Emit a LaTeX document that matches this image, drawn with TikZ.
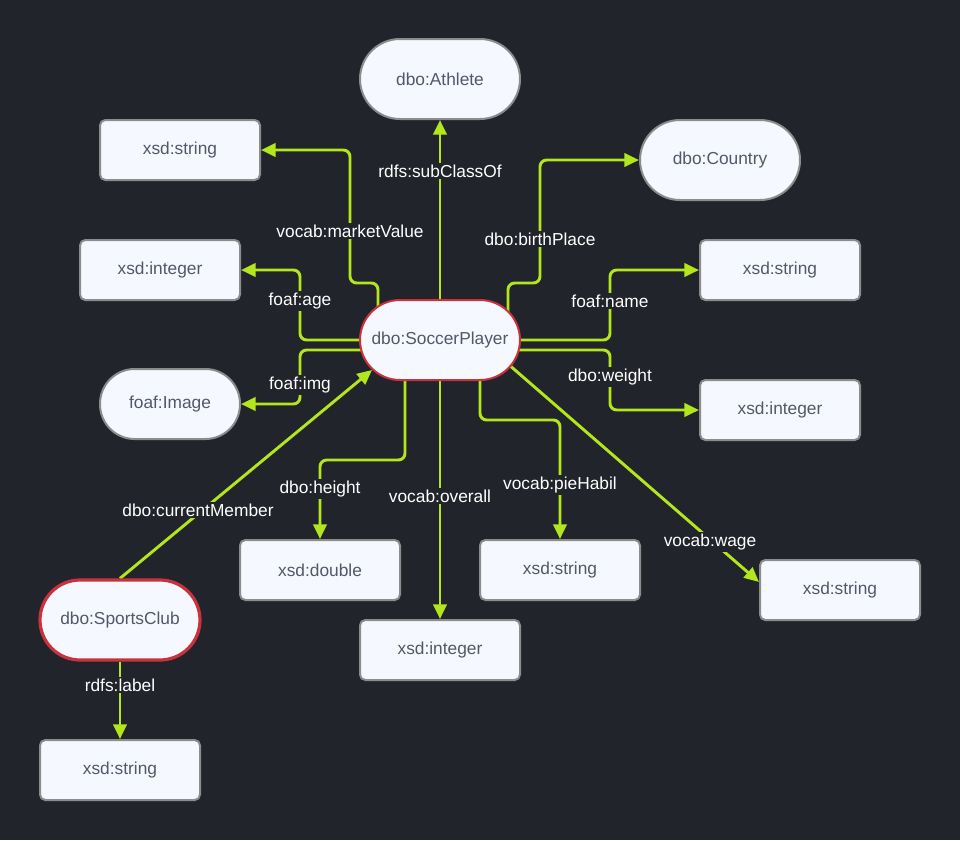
\documentclass[tikz,border=0pt]{standalone}
\usepackage{fontspec}
\setmainfont{Liberation Sans}
\usetikzlibrary{arrows.meta,calc}
\definecolor{bgc}{HTML}{22242B}
\definecolor{edgec}{HTML}{B4E61E}
\definecolor{nodefill}{HTML}{F5F9FF}
\definecolor{nodeborder}{HTML}{8C8C8C}
\definecolor{nodetext}{HTML}{525866}
\definecolor{redb}{HTML}{C8323C}
\pgfdeclarelayer{bglayer}
\pgfdeclarelayer{edgelayer}
\pgfsetlayers{bglayer,edgelayer,main}
\tikzset{
  box/.style={draw=nodeborder, line width=1.5pt, fill=nodefill, rounded corners=4pt,
    minimum width=120pt, minimum height=45pt, inner sep=0pt, text=nodetext,
    font=\fontsize{13}{15}\selectfont},
  pill/.style={box, rounded corners=30pt, minimum height=60pt},
  redpill/.style={pill, draw=redb},
  edge/.style={draw=edgec, line width=2.2pt, rounded corners=5pt,
    -{Triangle[length=11pt,width=10pt]}},
  lbl/.style={fill=bgc, text=white, inner sep=1.5pt, font=\fontsize{13}{15}\selectfont}
}
\begin{document}
\begin{tikzpicture}[x=0.75pt,y=-0.75pt]
\begin{pgfonlayer}{bglayer}
\fill[bgc] (0,0) rectangle (960,840);
\end{pgfonlayer}
\useasboundingbox (0,0) rectangle (960,840);

% nodes
\node[pill] (ath) at (440,79) {dbo:Athlete};
\node[box] (xs1) at (180,150) {xsd:string};
\node[pill] (cty) at (720,160) {dbo:Country};
\node[box] (xi1) at (160,270) {xsd:integer};
\node[box] (xs2) at (780,270) {xsd:string};
\node[redpill] (sp) at (440,340) {dbo:SoccerPlayer};
\node[pill, minimum width=105pt, minimum height=52.5pt, rounded corners=26pt] (img) at (170,404) {foaf:Image};
\node[box] (xi2) at (780,410) {xsd:integer};
\node[box] (xd) at (320,570) {xsd:double};
\node[box] (xs3) at (560,570) {xsd:string};
\node[box] (xs4) at (840,590) {xsd:string};
\node[box] (xi3) at (440,650) {xsd:integer};
\node[redpill, line width=2.4pt] (sc) at (120,620) {dbo:SportsClub};
\node[box] (xs5) at (120,770) {xsd:string};

% edges
\begin{pgfonlayer}{edgelayer}
\draw[edge] (sp) -- (ath.south);
\draw[edge] ($(sp.center)+(-62,0)$) |- (350,283) |- (xs1.east);
\draw[edge] ($(sp.center)+(68,0)$) |- (540,283) |- (cty.west);
\draw[edge] (sp.center) -| (300,270) -- (xi1.east);
\draw[edge] ($(sp.center)+(0,10)$) -| (300,404) -- (img.east);
\draw[edge] (sp.center) -| (610,270) -- (xs2.west);
\draw[edge] ($(sp.center)+(0,10)$) -| (610,410) -- (xi2.west);
\draw[edge] ($(sp.center)+(-35,0)$) |- (320,460) -- (xd.north);
\draw[edge] (sp) -- (xi3.north);
\draw[edge] ($(sp.center)+(40,0)$) |- (560,420) -- (xs3.north);
\draw[edge, rounded corners=0pt] ($(sp.center)+(60,17)$) -- ($(xs4.west)+(0,-8)$);
\draw[edge, rounded corners=0pt] (sc.north) -- ($(sp.center)+(-68,30)$);
\draw[edge] (sc.south) -- (xs5.north);
\end{pgfonlayer}

% labels
\node[lbl] (l1) at (440,171) {rdfs:subClassOf};
\node[lbl] (l2) at (350,231) {vocab:marketValue};
\node[lbl] (l3) at (540,239) {dbo:birthPlace};
\node[lbl] (l4) at (300,301) {foaf:age};
\node[lbl] (l5) at (300,385) {foaf:img};
\node[lbl] (l6) at (610,301) {foaf:name};
\node[lbl] (l7) at (610,377) {dbo:weight};
\node[lbl] (l8) at (320,489) {dbo:height};
\node[lbl] (l9) at (440,496) {vocab:overall};
\node[lbl] (l10) at (560,485) {vocab:pieHabil};
\node[lbl] (l11) at (710,542) {vocab:wage};
\node[lbl] (l12) at (198,510) {dbo:currentMember};
\node[lbl] (l13) at (120,685) {rdfs:label};
\end{tikzpicture}
\end{document}
